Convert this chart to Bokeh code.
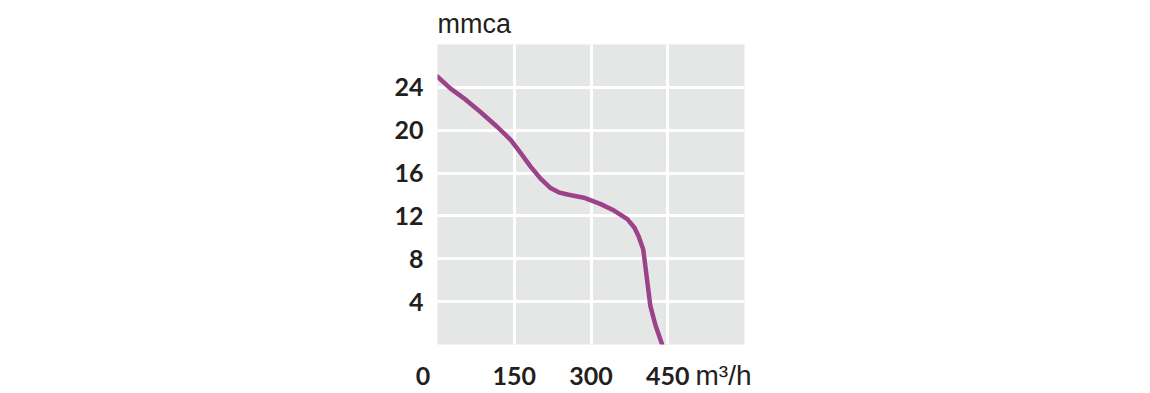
from bokeh.plotting import figure
from bokeh.models import Range1d, FixedTicker, Title, LinearAxis
from bokeh.embed import file_html
from bokeh.resources import INLINE

# Data
flow = [0, 25, 51, 84, 117, 143, 162, 182, 201, 221, 237, 254, 286, 319, 345, 371, 385, 393, 402, 406, 411, 416, 426, 439]
pressure = [25.0, 23.9, 23.0, 21.7, 20.3, 19.1, 17.9, 16.6, 15.5, 14.6, 14.2, 14.0, 13.7, 13.1, 12.5, 11.7, 10.9, 10.1, 8.9, 7.4, 5.5, 3.6, 1.8, 0.0]
x_ticks = [0, 150, 300, 450]
x_tick_labels = ["0\u2007\u2007", "150", "300", "450"]
grid_x = [150, 300, 450]
y_ticks = [4, 8, 12, 16, 20, 24]
x_unit = "m³/h"
x_unit_pos = 559
y_unit = "mmca"

p = figure(width=1150, height=393, output_backend="svg", toolbar_location=None,
           x_range=Range1d(0, 600), y_range=Range1d(0, 28),
           min_border_left=437, min_border_right=406, min_border_top=43, min_border_bottom=47)

p.background_fill_color = "#e5e6e6"
p.border_fill_color = "white"
p.outline_line_color = None

def style_axis(ax, font, weight, size):
    ax.axis_line_color = None
    ax.major_tick_line_color = None
    ax.minor_tick_line_color = None
    ax.major_tick_in = 0
    ax.major_tick_out = 0
    ax.major_label_text_font = font
    ax.major_label_text_font_style = weight
    ax.major_label_text_font_size = size
    ax.major_label_text_color = "#231f20"

style_axis(p.xaxis[0], "Lato", "bold", "25px")
style_axis(p.yaxis[0], "Lato", "bold", "25px")

xa = p.xaxis[0]
xa.ticker = FixedTicker(ticks=x_ticks)
xa.major_label_overrides = {t: s for t, s in zip(x_ticks, x_tick_labels)}
xa.major_label_standoff = 15

# unit of the x axis, drawn in the same row as the tick labels
ua = LinearAxis(ticker=FixedTicker(ticks=[x_unit_pos]), major_label_overrides={x_unit_pos: x_unit})
style_axis(ua, "Liberation Sans", "normal", "28px")
ua.major_label_standoff = -33
p.add_layout(ua, "below")

p.yaxis[0].ticker = FixedTicker(ticks=y_ticks)
p.yaxis[0].major_label_standoff = 14

p.xgrid[0].ticker = FixedTicker(ticks=grid_x)
p.ygrid[0].ticker = FixedTicker(ticks=y_ticks)
for g in (p.xgrid[0], p.ygrid[0]):
    g.grid_line_color = "white"
    g.grid_line_width = 3

p.line(flow, pressure, line_color="#9c4289", line_width=4.5, line_cap="round", line_join="round")

p.title = Title(text=y_unit, align="left", text_font="Liberation Sans", text_font_style="normal",
                text_font_size="27px", text_color="#231f20", standoff=12, offset=0)

open("out.html", "w").write(file_html(p, INLINE))
